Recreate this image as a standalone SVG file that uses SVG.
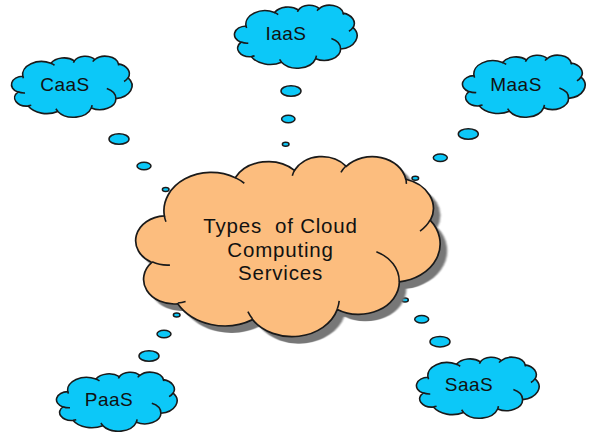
<svg xmlns="http://www.w3.org/2000/svg" xmlns:xlink="http://www.w3.org/1999/xlink" width="590" height="432" viewBox="0 0 590 432">
<style>
.big{fill:#FCBD7E;stroke:#1a1a1a;stroke-width:1.7}
.small{fill:#0CC8F8;stroke:#1a1a1a;stroke-width:1.6}
.inner{fill:none;stroke:#1a1a1a;stroke-width:1.6}
.shadow{fill:#777;stroke:none}
.bub{fill:#0CC8F8;stroke:#1a1a1a;stroke-width:1.5}
text{font-family:"Liberation Sans",Arial,sans-serif;fill:#111;text-anchor:middle}
.t1{font-size:20.5px;letter-spacing:0.8px;white-space:pre}
.t2{font-size:19px;letter-spacing:0.5px}
</style>
<defs>
<path id="cloud" vector-effect="non-scaling-stroke" d="M39,143.7 A67.53 91.9 0 0 1 140.06,52.03 A53.33 72.67 0 0 1 224.56,34.33 A43.65 59.45 0 0 1 298.34,24.82 A48.57 65.95 0 0 1 383.2,55.77 A53.33 72.73 0 0 1 418.2,154.6 A67.75 92.2 0 0 1 374.05,302.02 A57.85 78.67 0 0 1 285.58,368.13 A67.52 92.15 0 0 1 164.83,392.65 A77.2 105.43 0 0 1 58.06,354.73 A43.6 59.18 0 0 1 21.13,255.53 A43.45 59.45 0 0 1 39,143.7 Z"/>
<path id="cloudInner" vector-effect="non-scaling-stroke" d="M46.93,261.77 A43.45 59.45 0 0 1 21.6,253.8 M69.28,348.99 A43.6 59.18 0 0 1 58.2,352.81 M164.78,390.9 A67.52 92.15 0 0 1 158.1,373.49 M288.27,347.51 A67.52 92.15 0 0 1 285.61,366.6 M341.29,229.54 A57.85 78.67 0 0 1 373.81,300.9 M417.98,153.54 A53.33 72.73 0 0 1 403.49,180.31 M383.24,54.26 A48.57 65.95 0 0 1 384,66.9 M290.78,39.52 A48.57 65.95 0 0 1 298.2,23.4 M221.41,47.2 A43.65 59.45 0 0 1 225,33.31 M140,51.92 A67.53 91.9 0 0 1 152.99,65.4 M41.27,157.89 A67.53 91.9 0 0 1 39,143.71"/>
<filter id="blur" x="-10%" y="-10%" width="120%" height="120%"><feGaussianBlur stdDeviation="1.6"/></filter>
</defs>

<g id="connectors">
<ellipse class="bub" cx="119" cy="139" rx="10" ry="5.3"/>
<ellipse class="bub" cx="144" cy="166" rx="7" ry="3.7"/>
<ellipse class="bub" cx="165.7" cy="189.5" rx="3.3" ry="2"/>
<ellipse class="bub" cx="291" cy="91" rx="10" ry="5.3"/>
<ellipse class="bub" cx="288.3" cy="119" rx="6.7" ry="3.7"/>
<ellipse class="bub" cx="285.7" cy="144.3" rx="3.3" ry="2"/>
<ellipse class="bub" cx="468.3" cy="134" rx="10" ry="5.3"/>
<ellipse class="bub" cx="440.3" cy="157.7" rx="7" ry="3.7"/>
<ellipse class="bub" cx="415.3" cy="178.3" rx="3.3" ry="2"/>
<ellipse class="bub" cx="176.7" cy="315" rx="3.3" ry="2"/>
<ellipse class="bub" cx="164" cy="334" rx="7" ry="3.7"/>
<ellipse class="bub" cx="149" cy="356" rx="10" ry="5.3"/>
<ellipse class="bub" cx="405" cy="300" rx="3.3" ry="2"/>
<ellipse class="bub" cx="421.7" cy="319.3" rx="7" ry="3.7"/>
<ellipse class="bub" cx="440" cy="341.7" rx="10" ry="5.3"/>
</g>

<g id="main">
<g transform="translate(144,163) scale(0.7014,0.4167)"><use xlink:href="#cloud" class="shadow" filter="url(#blur)"/></g>
<g transform="translate(137,156) scale(0.7014,0.4167)"><use xlink:href="#cloud" class="big"/><use xlink:href="#cloudInner" class="inner"/></g>
<text class="t1" x="280.5" y="233" xml:space="preserve">Types  of Cloud</text>
<text class="t1" x="280.5" y="257">Computing</text>
<text class="t1" x="280.5" y="280">Services</text>
</g>

<g id="caas">
<g transform="translate(12,56) scale(0.2778,0.1412)"><use xlink:href="#cloud" class="small"/><use xlink:href="#cloudInner" class="inner"/></g>
<text class="t2" x="65" y="91">CaaS</text>
</g>

<g id="iaas">
<g transform="translate(235,5) scale(0.2824,0.1458)"><use xlink:href="#cloud" class="small"/><use xlink:href="#cloudInner" class="inner"/></g>
<text class="t2" x="286" y="40">IaaS</text>
</g>

<g id="maas">
<g transform="translate(463,55) scale(0.2824,0.1435)"><use xlink:href="#cloud" class="small"/><use xlink:href="#cloudInner" class="inner"/></g>
<text class="t2" x="516" y="91">MaaS</text>
</g>

<g id="paas">
<g transform="translate(57,372) scale(0.2778,0.1366)"><use xlink:href="#cloud" class="small"/><use xlink:href="#cloudInner" class="inner"/></g>
<text class="t2" x="109" y="406">PaaS</text>
</g>

<g id="saas">
<g transform="translate(417,357) scale(0.2824,0.1412)"><use xlink:href="#cloud" class="small"/><use xlink:href="#cloudInner" class="inner"/></g>
<text class="t2" x="469" y="391">SaaS</text>
</g>
</svg>
